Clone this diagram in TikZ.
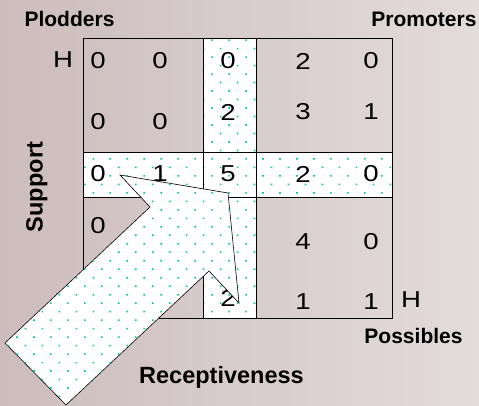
\documentclass[tikz,border=0pt]{standalone}
\usepackage{fontspec}
\setmainfont{Liberation Sans}
\usetikzlibrary{patterns.meta}
\definecolor{bgleft}{RGB}{205,188,188}
\definecolor{bgright}{RGB}{227,220,220}
\definecolor{dotgreen}{RGB}{0,200,145}
\newcommand\widenum[1]{\scalebox{1.2}[1]{#1}}

\begin{document}
\begin{tikzpicture}[x=1pt, y=-1pt,
	gridline/.style={line width=1pt, black},
	speckle/.style={fill=white, postaction={pattern color=dotgreen, pattern={Dots[distance=12pt, angle=45, radius=1.15pt]}}},
	num/.style={inner sep=0pt, font=\fontsize{23}{23}\selectfont},
	corner/.style={inner sep=0pt, anchor=base, font=\fontsize{21}{21}\selectfont\bfseries},
	axis/.style={inner sep=0pt, anchor=base, font=\fontsize{23.5}{23.5}\selectfont\bfseries}]
			%%%%% START %%%%%
			
			\useasboundingbox (0,0) rectangle (479,405);
			\shade[left color=bgleft, right color=bgright] (0,0) rectangle (479,405);
			
			\path[speckle] (203,38) rectangle (256,318);
			\path[speckle] (83,152) rectangle (392,197);
			
			\draw[gridline] (83,38) rectangle (392,318);
			\draw[gridline] (203,38) -- (203,318);
			\draw[gridline] (256,38) -- (256,318);
			\draw[gridline] (83,152) -- (392,152);
			\draw[gridline] (83,197) -- (392,197);
			
			\node[num] (a11) at (98,61) {\widenum{0}};
			\node[num] (a12) at (160,61) {\widenum{0}};
			\node[num] (a13) at (228,61) {\widenum{0}};
			\node[num] (a14) at (303,61) {\widenum{2}};
			\node[num] (a15) at (371,61) {\widenum{0}};
			
			\node[num] (a21) at (98,122) {\widenum{0}};
			\node[num] (a22) at (160,122) {\widenum{0}};
			\node[num] (a23) at (228,112) {\widenum{2}};
			\node[num] (a24) at (303,112) {\widenum{3}};
			\node[num] (a25) at (371,112) {\widenum{1}};
			
			\node[num] (a31) at (98,174) {\widenum{0}};
			\node[num] (a32) at (160,174) {\widenum{1}};
			\node[num] (a33) at (228,174) {\widenum{5}};
			\node[num] (a34) at (303,174) {\widenum{2}};
			\node[num] (a35) at (371,174) {\widenum{0}};
			
			\node[num] (a41) at (98,226) {\widenum{0}};
			\node[num] (a44) at (303,242) {\widenum{4}};
			\node[num] (a45) at (371,242) {\widenum{0}};
			
			\node[num] (a53) at (228,298) {\widenum{2}};
			\node[num] (a54) at (303,302) {\widenum{1}};
			\node[num] (a55) at (371,302) {\widenum{1}};
			
			\node[num] (supH) at (63,60) {\widenum{H}};
			\node[num] (supL) at (62,302) {\widenum{L}};
			\node[num] (recH) at (411,300) {\widenum{H}};
			
			\node[corner] (plod) at (69.5,26) {Plodders};
			\node[corner] (prom) at (424,26) {Promoters};
			\node[corner] (poss) at (413.5,343) {Possibles};
			\node[axis] (recp) at (221.5,383) {Receptiveness};
			\node[axis, rotate=90] (supp) at (42.5,187) {Support};
			
			\draw[speckle, line width=0.6pt] (5,343) -- (150,207) -- (120,175) -- (228,193) -- (239,303) -- (209,271) -- (66,405) -- cycle;
			
			%%%%% END %%%%%
		\end{tikzpicture}
\end{document}
